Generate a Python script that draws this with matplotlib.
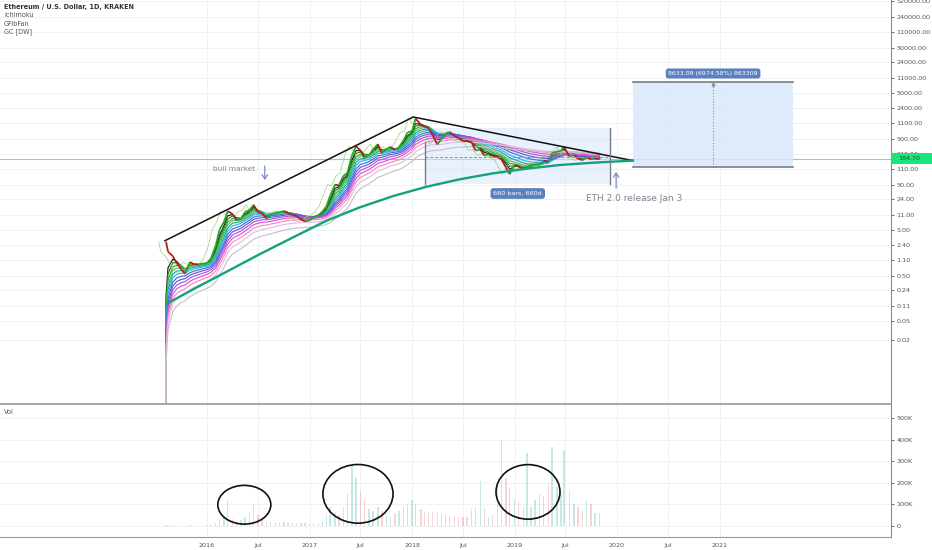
import matplotlib
matplotlib.use("Agg")
import matplotlib.pyplot as plt
import matplotlib.dates as mdates
import matplotlib.transforms as mtransforms
from matplotlib.patches import Ellipse, Rectangle
from matplotlib.collections import LineCollection
from matplotlib.ticker import NullLocator
import numpy as np
import pandas as pd

# ETH/USD (Kraken), precio de cierre aprox. cada ~15 dias, y volumen (miles)
dates = ["2015-08-08", "2015-08-15", "2015-09-01", "2015-09-15", "2015-10-01", "2015-10-15",
         "2015-11-01", "2015-11-15", "2015-12-01", "2015-12-15", "2016-01-01", "2016-01-15",
         "2016-02-01", "2016-02-15", "2016-03-01", "2016-03-15", "2016-04-01", "2016-04-15",
         "2016-05-01", "2016-05-15", "2016-06-01", "2016-06-15", "2016-07-01", "2016-07-15",
         "2016-08-01", "2016-08-15", "2016-09-01", "2016-09-15", "2016-10-01", "2016-10-15",
         "2016-11-01", "2016-11-15", "2016-12-01", "2016-12-15", "2017-01-01", "2017-01-15",
         "2017-02-01", "2017-02-15", "2017-03-01", "2017-03-15", "2017-04-01", "2017-04-15",
         "2017-05-01", "2017-05-15", "2017-06-01", "2017-06-15", "2017-07-01", "2017-07-15",
         "2017-08-01", "2017-08-15", "2017-09-01", "2017-09-15", "2017-10-01", "2017-10-15",
         "2017-11-01", "2017-11-15", "2017-12-01", "2017-12-15", "2018-01-01", "2018-01-13",
         "2018-02-01", "2018-02-15", "2018-03-01", "2018-03-15", "2018-04-01", "2018-04-15",
         "2018-05-01", "2018-05-15", "2018-06-01", "2018-06-15", "2018-07-01", "2018-07-15",
         "2018-08-01", "2018-08-15", "2018-09-01", "2018-09-15", "2018-10-01", "2018-10-15",
         "2018-11-01", "2018-11-15", "2018-12-01", "2018-12-15", "2019-01-01", "2019-01-15",
         "2019-02-01", "2019-02-15", "2019-03-01", "2019-03-15", "2019-04-01", "2019-04-15",
         "2019-05-01", "2019-05-15", "2019-06-01", "2019-06-15", "2019-06-26", "2019-07-15",
         "2019-08-01", "2019-08-15", "2019-09-01", "2019-09-15", "2019-10-01", "2019-10-15",
         "2019-10-31"]
close = [2.8, 1.7, 1.35, 0.95, 0.70, 0.55,
         1.0, 0.90, 0.88, 0.92, 0.95, 1.2,
         2.3, 5.2, 7.5, 13.0, 11.4, 8.2,
         8.8, 12.5, 13.9, 18.0, 12.3, 11.7,
         9.0, 11.0, 12.1, 12.4, 13.2, 11.9,
         10.9, 10.1, 8.6, 7.8, 8.2, 9.8,
         10.7, 12.8, 16.5, 28.5, 50.0, 48.0,
         78.0, 90.0, 220.0, 345.0, 280.0, 195.0,
         225.0, 300.0, 385.0, 245.0, 300.0, 335.0,
         290.0, 330.0, 465.0, 690.0, 755.0, 1400.0,
         1035.0, 930.0, 870.0, 610.0, 380.0, 500.0,
         670.0, 710.0, 580.0, 520.0, 455.0, 450.0,
         420.0, 280.0, 295.0, 220.0, 230.0, 210.0,
         200.0, 180.0, 120.0, 85.0, 135.0, 125.0,
         107.0, 122.0, 135.0, 138.0, 141.0, 165.0,
         160.0, 245.0, 265.0, 275.0, 335.0, 210.0,
         220.0, 185.0, 172.0, 198.0, 180.0, 186.0,
         184.7]
volume_k = [6, 5, 3, 2, 2, 2,
            4, 2, 2, 2, 3, 6,
            12, 30, 45, 120, 35, 25,
            30, 40, 70, 100, 50, 30,
            25, 20, 18, 15, 18, 15,
            14, 12, 15, 12, 10, 10,
            15, 20, 50, 90, 60, 50,
            90, 150, 280, 220, 160, 120,
            80, 70, 90, 70, 50, 40,
            60, 70, 90, 100, 120, 100,
            80, 70, 60, 70, 60, 55,
            50, 45, 50, 40, 40, 40,
            80, 90, 210, 80, 40, 50,
            200, 400, 220, 180, 120, 110,
            90, 340, 90, 120, 150, 140,
            200, 365, 180, 150, 350, 160,
            100, 90, 70, 120, 100, 60,
            60]
last_price = 184.70

# dibujos
trend_dates = ["2015-08-04", "2018-01-05", "2020-02-27"]
trend_price = [2.94, 1520, 168]
curve_dates = ["2015-08-09", "2015-11-13", "2016-03-11", "2016-07-08", "2016-11-03",
               "2017-03-02", "2017-06-29", "2017-10-26", "2018-02-22", "2018-06-20",
               "2018-10-17", "2019-02-13", "2019-06-12", "2019-10-09", "2020-02-27"]
curve_price = [0.120, 0.253, 0.615, 1.50, 3.49, 8.08, 15.9, 28.1, 45.0, 65.4,
               88.5, 111.7, 134.6, 151.2, 168]

range_start, range_end = "2018-02-17", "2019-12-08"
range_low, range_high, range_mid = 51.5, 872, 202
proj_start, proj_end = "2020-02-27", "2021-09-20"
proj_low, proj_high = 123.78, 8756.87

ema_spans = [30, 45, 65, 85, 110, 140, 180, 225, 280, 350, 450, 600, 900]
ema_colors = ['#1a1a1a', '#1b8a1b', '#2eaa3a', '#66c26a', '#26a69a', '#29b6f6', '#3f6fd8',
              '#6a5acd', '#a05cd8', '#e64ce0', '#f48fb1', '#e1bee7', '#c4c4c4']

price_ticks = [520000, 240000, 110000, 50000, 24000, 11000, 5000, 2400, 1100, 500, 240,
               110, 50, 24, 11, 5, 2.4, 1.1, 0.5, 0.24, 0.11, 0.05, 0.02]
vol_ticks = [0, 100000, 200000, 300000, 400000, 500000]
vol_labels = ["0", "100K", "200K", "300K", "400K", "500K"]
time_ticks = ["2016-01-01", "2016-07-01", "2017-01-01", "2017-07-01", "2018-01-01", "2018-07-01",
              "2019-01-01", "2019-07-01", "2020-01-01", "2020-07-01", "2021-01-01"]
time_labels = ["2016", "Jul", "2017", "Jul", "2018", "Jul", "2019", "Jul", "2020", "Jul", "2021"]


def dn(d):
    return mdates.date2num(pd.to_datetime(d).to_numpy() if isinstance(d, list) else pd.to_datetime(d))


def ema_line(t, p, span):
    # ema con semilla en 0, como el indicador
    a = 2.0 / (span + 1)
    e = 0.0
    prev = t[0] - 1
    out = []
    for ti, pi in zip(t, p):
        w = 1 - (1 - a) ** (ti - prev)
        e = e + w * (pi - e)
        out.append(e)
        prev = ti
    return np.r_[t[0], t], np.r_[0.0, out]


t = dn(dates)
p = np.array(close)
t16 = dn("2016-01-01")
xlim = (t16 - 737.7, t16 + 2437.6)
grid_c = '#eef1f6'
txt_c = '#555555'

fig = plt.figure(figsize=(9.32, 5.5), dpi=100)
ax = fig.add_axes([0, 1 - 404 / 550, 891 / 932, 404 / 550])
axv = fig.add_axes([0, 13 / 550, 891 / 932, 132 / 550])

# --- panel de precio ---
ax.set_yscale('log', nonpositive='clip')
ax.set_xlim(*xlim)
ax.set_ylim(7.7e-4, 5.6e5)
for v in price_ticks:
    ax.axhline(v, color=grid_c, lw=0.7, zorder=0)
for d in time_ticks:
    ax.axvline(dn(d), color=grid_c, lw=0.7, zorder=0)
    axv.axvline(dn(d), color=grid_c, lw=0.7, zorder=0)

ax.axhline(last_price, color='#6fdad6', lw=0.8, zorder=1)

for span, col in zip(ema_spans, ema_colors):
    ex, ey = ema_line(t, p, span)
    ax.plot(ex, ey, color=col, lw=0.85, zorder=2)

# chikou (cierre desplazado 26 dias)
ax.plot(t - 26, p, color='#9ccc65', lw=0.6, alpha=0.8, zorder=2.5)

segs = [[(t[i - 1], p[i - 1]), (t[i], p[i])] for i in range(1, len(t))]
seg_cols = ['#22a822' if p[i] >= p[i - 1] else '#b71c1c' for i in range(1, len(t))]
ax.add_collection(LineCollection(segs, colors=seg_cols, linewidths=1.3, zorder=3))

ax.plot(dn(trend_dates), trend_price, color='#111111', lw=1.1, zorder=4)
ax.plot(dn(curve_dates), curve_price, color='#18a07c', lw=1.7, zorder=4)

# rango de fechas (660 bars)
r0, r1 = dn(range_start), dn(range_end)
ax.add_patch(Rectangle((r0, range_low), r1 - r0, range_high - range_low,
                       fc='#d6e6fb', ec='none', alpha=0.55, zorder=1))
ax.plot([r0, r0], [range_low, 430], color='#777c88', lw=1.0, zorder=4)
ax.plot([r1, r1], [range_low, range_high], color='#777c88', lw=1.0, zorder=4)
ax.plot([r0, r1], [range_mid, range_mid], color='#8a8f9a', lw=0.7, ls=(0, (3, 2)), zorder=4)
ax.text((r0 + r1) / 2, 31.9, "660 bars, 660d", ha='center', va='center', fontsize=4.6,
        color='white', zorder=6,
        bbox=dict(boxstyle='round,pad=0.45', fc='#5b80c2', ec='none'))

# proyeccion de precio
q0, q1 = dn(proj_start), dn(proj_end)
ax.add_patch(Rectangle((q0, proj_low), q1 - q0, proj_high - proj_low,
                       fc='#d6e6fb', ec='none', alpha=0.8, zorder=1))
ax.plot([q0, q1], [proj_low, proj_low], color='#787b86', lw=1.2, zorder=4)
ax.plot([q0, q1], [proj_high, proj_high], color='#787b86', lw=1.2, zorder=4)
qm = (q0 + q1) / 2
ax.plot([qm, qm], [proj_low, proj_high], color='#8a8f9a', lw=0.8, ls=':', zorder=4)
ax.plot([qm], [proj_high * 0.93], marker='^', ms=2, color='#8a8f9a', zorder=4)
ax.text(qm, 13690, "8633.09 (6974.58%) 863309", ha='center', va='center', fontsize=4.5,
        color='white', zorder=6,
        bbox=dict(boxstyle='round,pad=0.4', fc='#5b80c2', ec='none'))

# textos y flechas
arrow_c = '#7f86c9'
ax.text(dn("2016-01-22"), 110, "bull market", fontsize=5.3, color='#808590', va='center')
ax.annotate('', xy=(dn("2016-07-25"), 63), xytext=(dn("2016-07-25"), 128),
            arrowprops=dict(arrowstyle='->,head_length=0.3,head_width=0.2', color=arrow_c,
                            lw=0.9, shrinkA=0, shrinkB=0))
ax.text(dn("2019-09-12"), 25.4, "ETH 2.0 release Jan 3", fontsize=6.5, color='#808590',
        va='center')
ax.annotate('', xy=(dn("2019-12-29"), 94.5), xytext=(dn("2019-12-29"), 42.1),
            arrowprops=dict(arrowstyle='->,head_length=0.3,head_width=0.2', color=arrow_c,
                            lw=0.9, shrinkA=0, shrinkB=0))

# ejes
ax.yaxis.tick_right()
ax.set_yticks(price_ticks)
ax.set_yticklabels([f"{v:.2f}" for v in price_ticks])
ax.yaxis.set_minor_locator(NullLocator())
ax.tick_params(axis='y', labelsize=4.6, colors=txt_c, length=2.5, width=0.6, pad=1.5)
ax.set_xticks([])
for s in ['top', 'left']:
    ax.spines[s].set_visible(False)
ax.spines['right'].set_color('#8a8a8a')
ax.spines['bottom'].set_color('#9a9a9a')
ax.spines['bottom'].set_linewidth(1.2)

# etiqueta de precio actual
blend = mtransforms.blended_transform_factory(ax.transAxes, ax.transData)
ax.add_patch(Rectangle((1.0, last_price / 1.31), 0.046, last_price * 1.31 - last_price / 1.31,
                       transform=blend, fc='#19e57a', ec='none', clip_on=False, zorder=7))
ax.text(1.021, last_price, f"{last_price:.2f}", transform=blend, ha='center', va='center',
        fontsize=4.6, color='#145c2e', zorder=8, clip_on=False)

# --- panel de volumen ---
axv.set_xlim(*xlim)
axv.set_ylim(-50500, 559600)
for v in vol_ticks:
    axv.axhline(v, color=grid_c, lw=0.7, zorder=0)
vcols = ['#26a69a' if i == 0 or p[i] >= p[i - 1] else '#ef5350' for i in range(len(p))]
axv.bar(t, np.array(volume_k) * 1000, width=5, color=vcols, alpha=0.25, zorder=1)

for cd, cy, w, h in [("2016-05-13", 98600, 189, 179000), ("2017-06-22", 149000, 250, 271000),
                     ("2019-02-18", 158000, 228, 252000)]:
    axv.add_patch(Ellipse((dn(cd), cy), w, h, fill=False, ec='#111111', lw=1.2, zorder=4))

axv.yaxis.tick_right()
axv.set_yticks(vol_ticks)
axv.set_yticklabels(vol_labels)
axv.tick_params(axis='y', labelsize=4.6, colors=txt_c, length=2.5, width=0.6, pad=1.5)
axv.set_xticks(dn(time_ticks))
axv.set_xticklabels(time_labels)
axv.tick_params(axis='x', labelsize=4.6, colors=txt_c, length=0, pad=4)
for s in ['top', 'left']:
    axv.spines[s].set_visible(False)
axv.spines['right'].set_color('#8a8a8a')
axv.spines['bottom'].set_color('#9a9a9a')

# leyendas
fig.text(4 / 932, 1 - 7 / 550, "Ethereum / U.S. Dollar, 1D, KRAKEN", fontsize=4.7,
         color='#333333', fontweight='bold', va='center')
for i, name in enumerate(["Ichimoku", "GFibFan", "GC [DW]"]):
    fig.text(4 / 932, 1 - (15.3 + 8.2 * i) / 550, name, fontsize=4.7, color=txt_c, va='center')
fig.text(4 / 932, 1 - 412 / 550, "Vol", fontsize=4.7, color=txt_c, va='center')

fig.savefig("out.png", dpi=100, facecolor='white')
